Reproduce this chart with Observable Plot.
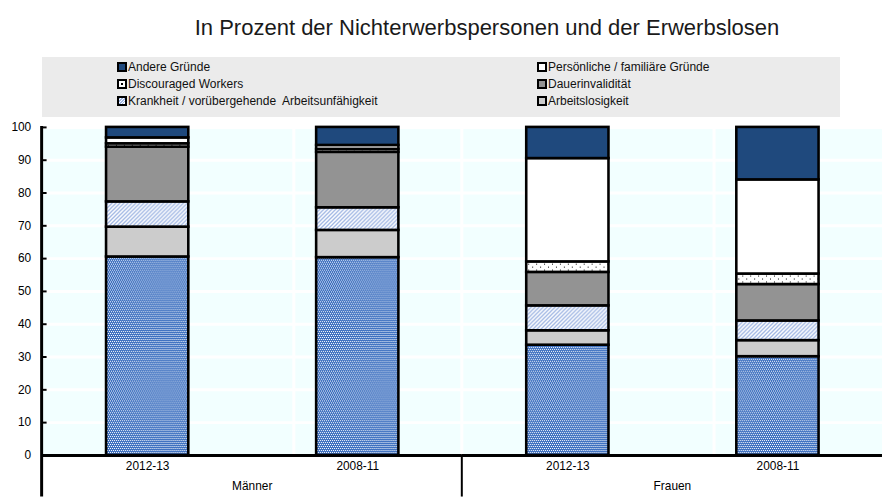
<!DOCTYPE html>
<html><head><meta charset="utf-8">
<script src="https://cdn.jsdelivr.net/npm/d3@7"></script>
<script src="https://cdn.jsdelivr.net/npm/@observablehq/plot@0.6"></script>
<style>
html,body{margin:0;padding:0;overflow:hidden;background:#fff;font-family:"Liberation Sans",Arial,sans-serif;}
#title{position:absolute;left:0;top:15px;width:974px;text-align:center;font-size:22px;color:#1a1a1a;white-space:nowrap;}
#legend{position:absolute;left:42px;top:57px;width:798px;height:60px;background:#ebebeb;}
.item{position:absolute;font-size:12px;color:#111;display:flex;align-items:center;height:14px;white-space:pre;}
.sw{width:6px;height:6px;border:2px solid #000;margin-right:1px;}
#chart{position:absolute;left:0;top:117px;}
</style></head>
<body>
<div id="title">In Prozent der Nichterwerbspersonen und der Erwerbslosen</div>
<div id="legend"></div>
<div id="chart"></div>
<script>
// ---- data ----
const sexes = ["Männer", "Frauen"];
const periods = ["2012-13", "2008-11"];
const bars = [["Männer","2012-13"],["Männer","2008-11"],["Frauen","2012-13"],["Frauen","2008-11"]];
// causes, bottom to top
const causes = ["Ruhestand", "Arbeitslosigkeit", "Krankheit / vorübergehende  Arbeitsunfähigkeit", "Dauerinvalidität", "Discouraged Workers", "Persönliche / familiäre Gründe", "Andere Gründe"];
// values per bar: Männer 2012-13, Männer 2008-11, Frauen 2012-13, Frauen 2008-11
const ruhestand   = [60.5, 60.3, 33.6, 30.1];
const arbeitslos  = [9.1, 8.3, 4.4, 4.9];
const krankheit   = [7.7, 6.9, 7.6, 6.0];
const dauerinv    = [16.7, 16.9, 10.2, 11.1];
const discouraged = [1.0, 0.9, 3.2, 3.2];
const persoenlich = [1.8, 1.2, 31.5, 28.7];
const andere      = [3.2, 5.5, 9.5, 16.0];
const series = [ruhestand, arbeitslos, krankheit, dauerinv, discouraged, persoenlich, andere];
// legend entries (as shown)
const legendItems = ["Andere Gründe", "Persönliche / familiäre Gründe", "Discouraged Workers", "Dauerinvalidität", "Krankheit / vorübergehende  Arbeitsunfähigkeit", "Arbeitslosigkeit"];
const yTicks = [0,10,20,30,40,50,60,70,80,90,100];

const fills = ["url(#p-ruh)", "#cccccc", "url(#p-krank)", "#939393", "url(#p-disc)", "#ffffff", "#1f497d"];
const swatch = {
  "Andere Gründe": "background:#1f497d",
  "Persönliche / familiäre Gründe": "background:#fff",
  "Discouraged Workers": "background:radial-gradient(circle,#000 0 1px,#fff 1.5px)",
  "Dauerinvalidität": "background:#939393",
  "Krankheit / vorübergehende  Arbeitsunfähigkeit": "background:repeating-linear-gradient(135deg,#9fb6e3 0 1px,#fff 1px 2px)",
  "Arbeitslosigkeit": "background:#cccccc"
};

const data = [];
causes.forEach((c, ci) => bars.forEach(([s, p], bi) => data.push({sex: s, period: p, cause: c, value: series[ci][bi]})));

// ---- legend ----
const leg = document.getElementById("legend");
legendItems.forEach((name, i) => {
  const col = i % 2, row = Math.floor(i / 2);
  const d = document.createElement("div");
  d.className = "item";
  d.style.left = (col ? 495 : 75) + "px";
  d.style.top = (3 + row * 17) + "px";
  d.innerHTML = `<div class="sw" style="${swatch[name]}"></div>${name}`;
  leg.appendChild(d);
});

// ---- chart ----
const plot = Plot.plot({
  width: 890, height: 383,
  marginTop: 10, marginBottom: 42, marginLeft: 42, marginRight: 0,
  style: {fontFamily: "'Liberation Sans', Arial, sans-serif", fontSize: "12px", color: "#000", background: "transparent"},
  fx: {domain: sexes, padding: 0, label: null},
  x: {domain: periods, paddingInner: 0.61, paddingOuter: 0.305, label: null},
  y: {domain: [0, 100], label: null},
  color: {domain: causes, range: fills},
  marks: [
    Plot.frame({fill: "#f2ffff", stroke: null}),
    Plot.gridY(yTicks, {stroke: "#fff", strokeOpacity: 1, strokeWidth: 3}),
    Plot.barY(data, {fx: "sex", x: "period", y: "value", fill: "cause", stroke: "#000", strokeWidth: 2.6}),
    Plot.ruleY([0], {stroke: "#000", strokeWidth: 3}),
    Plot.axisY(yTicks, {tickSize: -5, tickPadding: 16, strokeWidth: 2, label: null}),
    Plot.axisX({anchor: "bottom", tickSize: 0, tickPadding: 6, label: null}),
    Plot.axisFx({anchor: "bottom", tickSize: 0, tickPadding: 26, label: null})
  ]
});
document.getElementById("chart").appendChild(plot);

// ---- patterns and decorations ----
(function () {
  const svg = d3.select(plot);
  const defs = svg.insert("defs", ":first-child");
  const pr = defs.append("pattern").attr("id", "p-ruh").attr("width", 4).attr("height", 4).attr("patternUnits", "userSpaceOnUse");
  pr.append("rect").attr("width", 4).attr("height", 4).attr("fill", "#3d70c0");
  [[0,0],[2,0],[1,2],[3,2]].forEach(([a,b]) => pr.append("rect").attr("x", a).attr("y", b).attr("width", 1).attr("height", 1).attr("fill", "#ffffff"));
  const pk = defs.append("pattern").attr("id", "p-krank").attr("width", 4).attr("height", 4).attr("patternUnits", "userSpaceOnUse");
  pk.append("rect").attr("width", 4).attr("height", 4).attr("fill", "#fff");
  pk.append("path").attr("d", "M-1,1L1,-1M0,4L4,0M3,5L5,3").attr("stroke", "#9fb6e3").attr("stroke-width", 1.3);
  const pd = defs.append("pattern").attr("id", "p-disc").attr("width", 8).attr("height", 6).attr("patternUnits", "userSpaceOnUse");
  pd.append("rect").attr("width", 8).attr("height", 6).attr("fill", "#fff");
  pd.append("rect").attr("x", 1).attr("y", 1).attr("width", 1).attr("height", 1).attr("fill", "#000");
  pd.append("rect").attr("x", 5).attr("y", 4).attr("width", 1).attr("height", 1).attr("fill", "#000");

  const fx = plot.scale("fx"), x = plot.scale("x"), y = plot.scale("y");
  const yTop = y.apply(100), yBottom = y.apply(0), H = 383;
  const gap = (x.step - x.bandwidth) / 2;
  const barG = svg.select('g[aria-label="bar"]').node();
  const gridG = svg.insert("g", () => barG);
  sexes.forEach(s => {
    periods.forEach((p, i) => {
      const xx = fx.apply(s) + x.apply(p) - gap;
      if (i > 0) gridG.append("line").attr("x1", xx).attr("x2", xx).attr("y1", yTop).attr("y2", yBottom).attr("stroke", "#fff").attr("stroke-width", 3);
    });
  });
  const fxStart = fx.apply("Frauen");
  gridG.append("line").attr("x1", fxStart).attr("x2", fxStart).attr("y1", yTop).attr("y2", yBottom).attr("stroke", "#fff").attr("stroke-width", 3);
  svg.append("line").attr("x1", fxStart).attr("x2", fxStart).attr("y1", yBottom).attr("y2", H).attr("stroke", "#000").attr("stroke-width", 2);
  const x0 = fx.apply("Männer");
  svg.append("line").attr("x1", x0).attr("x2", x0).attr("y1", yTop - 1).attr("y2", H).attr("stroke", "#000").attr("stroke-width", 3);
})();
</script>
</body></html>
